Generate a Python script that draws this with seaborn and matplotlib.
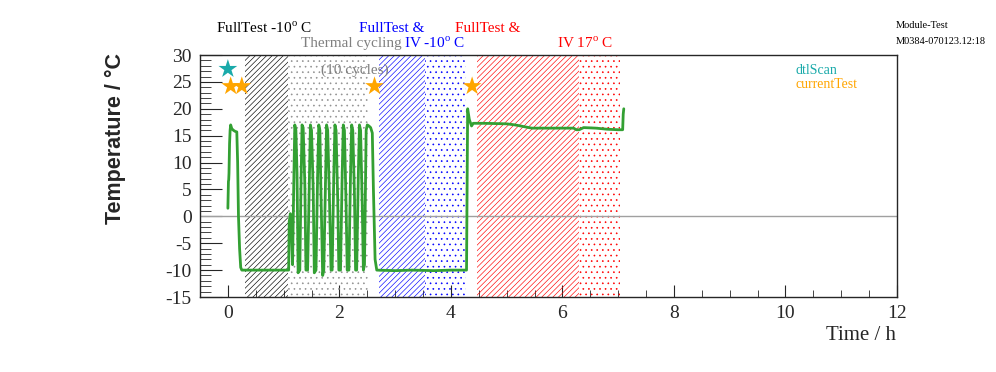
import numpy as np
import pandas as pd
import matplotlib
matplotlib.use("Agg")
import matplotlib.pyplot as plt
import seaborn as sns

# temperature log (hours, deg C)
time_h = [0.00, 0.01, 0.015, 0.02, 0.03, 0.04, 0.05, 0.07, 0.10, 0.13, 0.16, 0.175,
          0.19, 0.21, 0.23, 0.25, 0.50, 0.80, 1.09,
          1.10, 1.12, 1.14, 1.16, 1.18, 1.20, 1.22, 1.24, 1.26, 1.29,
          1.31, 1.33, 1.35, 1.38, 1.40, 1.43,
          1.46, 1.48, 1.50, 1.53, 1.55, 1.58,
          1.61, 1.63, 1.65, 1.67, 1.70, 1.72,
          1.75, 1.77, 1.79, 1.82, 1.85, 1.87,
          1.90, 1.92, 1.94, 1.97, 1.99, 2.02,
          2.05, 2.07, 2.09, 2.12, 2.14, 2.17,
          2.20, 2.22, 2.24, 2.27, 2.29, 2.31,
          2.34, 2.36, 2.38, 2.41, 2.43, 2.45,
          2.48, 2.50, 2.53, 2.56, 2.59, 2.61, 2.64, 2.67,
          3.00, 3.30, 3.70, 4.00, 4.28,
          4.30, 4.33, 4.37, 4.40, 4.60, 5.00, 5.15, 5.30, 5.45, 5.80,
          6.20, 6.25, 6.30, 6.38, 6.60, 6.80, 7.00, 7.08, 7.09, 7.10]
temp_c = [1.5, 6.5, 6.8, 8.0, 13.5, 16.0, 17.0, 16.3, 16.0, 15.8, 15.7, 10.0,
          0.0, -6.0, -9.5, -10.0, -10.0, -10.0, -10.0,
          -1.0, 0.5, -3.0, -9.0, 5.0, 17.0, 16.0, 8.0, -10.5, -10.0,
          5.0, 17.0, 16.5, 6.0, -10.0, -10.0,
          6.0, 17.0, 16.0, 5.0, -10.5, -10.0,
          8.0, 17.0, 16.0, 4.0, -11.0, -10.0,
          6.0, 17.0, 16.0, 4.0, -10.0, -10.0,
          8.0, 17.0, 16.0, 3.0, -10.0, -10.0,
          8.0, 17.0, 16.0, 2.0, -10.0, -10.0,
          8.0, 17.0, 16.0, 4.0, -10.0, -10.0,
          8.0, 17.0, 16.0, 2.0, -10.0, -9.0,
          16.0, 17.0, 16.8, 16.5, 15.5, 5.0, -8.0, -10.0,
          -10.1, -10.0, -10.1, -10.0, -10.0,
          20.0, 18.0, 16.8, 17.3, 17.3, 17.2, 17.0, 16.7, 16.4, 16.4,
          16.4, 16.1, 16.1, 16.5, 16.4, 16.2, 16.1, 16.1, 19.0, 20.0]

# test markers
dtl_t = [0.0]
dtl_T = [27.4]
cur_t = [0.05, 0.25, 2.63, 4.38]
cur_T = [24.2, 24.2, 24.2, 24.2]

# shaded test phases: start, end, colour, hatch
phase_start = [0.30, 1.08, 2.71, 3.53, 4.46, 6.29]
phase_end = [1.08, 2.51, 3.53, 4.27, 6.29, 7.04]
phase_color = ["black", "#909090", "blue", "blue", "red", "red"]
phase_hatch = ["//////", "...", "//////", "...", "//////", "..."]

sns.set_style("ticks")
plt.rcParams["font.family"] = ["Liberation Serif", "DejaVu Serif"]
plt.rcParams["mathtext.fontset"] = "custom"
plt.rcParams["mathtext.rm"] = "Liberation Serif"
plt.rcParams["axes.unicode_minus"] = False
plt.rcParams["hatch.linewidth"] = 0.45

W, H = 996, 372
fig = plt.figure(figsize=(W / 100, H / 100), dpi=100)
ax = fig.add_axes([200 / W, 1 - 297 / H, 697 / W, 242 / H])

for s, e, c, h in zip(phase_start, phase_end, phase_color, phase_hatch):
    ax.axvspan(s, e, facecolor="none", edgecolor=c, hatch=h, linewidth=0, zorder=1)

ax.axhline(0, color="#a0a0a0", linewidth=1, zorder=2)

df = pd.DataFrame({"t": time_h, "T": temp_c})
sns.lineplot(data=df, x="t", y="T", sort=False, estimator=None,
             color="#33a033", linewidth=2.0, ax=ax, zorder=3)

sns.scatterplot(x=dtl_t, y=dtl_T, marker="*", s=200, color="#1aaaaa",
                edgecolor="none", ax=ax, zorder=4)
sns.scatterplot(x=cur_t, y=cur_T, marker="*", s=200, color="#ffa500",
                edgecolor="none", ax=ax, zorder=4)

ax.set_xlim(-0.48, 12)
ax.set_ylim(-15, 30)
ax.set_xticks(np.arange(0, 13, 2))
ax.set_xticks(np.arange(-0.5, 12.01, 0.5), minor=True)
ax.set_yticks(np.arange(-15, 31, 5))
ax.set_yticks(np.arange(-15, 31, 1), minor=True)
ax.tick_params(axis="both", which="both", direction="in", labelsize=14)
ax.tick_params(axis="x", which="major", length=9, pad=6)
ax.tick_params(axis="x", which="minor", length=5)
ax.tick_params(axis="y", which="major", length=16, pad=6)
ax.tick_params(axis="y", which="minor", length=8)
for sp in ax.spines.values():
    sp.set_linewidth(1)
    sp.set_visible(True)

ax.set_xlabel("")
ax.set_ylabel("")
fig.text(896 / W, 1 - 336 / H, "Time / h", ha="right", va="center", fontsize=15)
fig.text(115 / W, 1 - 53 / H, "Temperature / °C", rotation=90, ha="center", va="top",
         fontsize=15.5, fontweight="bold", family=["Liberation Sans", "DejaVu Sans"])

def ftxt(x, y, s, c, size=11, ha="left"):
    fig.text(x / W, 1 - y / H, s, color=c, fontsize=size, ha=ha, va="center")

ftxt(216, 28, r"FullTest -10$^{\mathrm{o}}$ C", "black")
ftxt(301, 43, "Thermal cycling", "#808080")
ftxt(321, 70, "(10 cycles)", "#808080")
ftxt(359, 28, "FullTest &", "blue")
ftxt(404, 43, r"IV -10$^{\mathrm{o}}$ C", "blue")
ftxt(455, 28, "FullTest &", "red")
ftxt(557, 43, r"IV 17$^{\mathrm{o}}$ C", "red")
ftxt(896, 26, "Module-Test", "black", size=7.5)
ftxt(896, 41, "M0384-070123.12:18", "black", size=7.5)
ftxt(796, 70, "dtlScan", "#1aaaaa", size=10)
ftxt(796, 85, "currentTest", "#ffa500", size=10)

fig.savefig("out.png", dpi=100)
